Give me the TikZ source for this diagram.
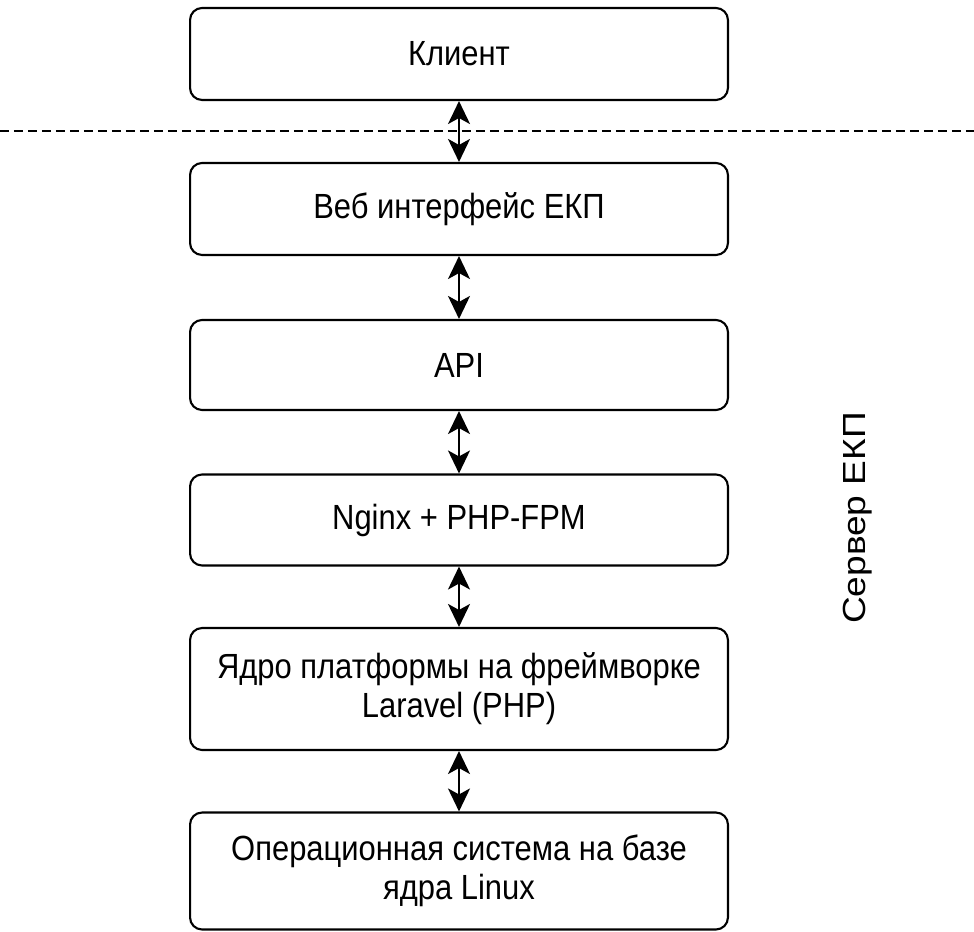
\documentclass[tikz,border=0pt]{standalone}
\usepackage{fontspec}
\setmainfont[FakeStretch=0.885]{Liberation Sans}
\newfontfamily\sidefont[FakeStretch=1.16]{Liberation Sans}
\usetikzlibrary{arrows.meta,positioning}

\tikzset{
  layer/.style={draw,line width=1.2pt,rounded corners=0.24cm,
    minimum width=10.76cm,align=center,inner sep=0pt,
    font=\fontsize{19.9pt}{22.2pt}\selectfont},
  link/.style={line width=1.3pt,
    >={Stealth[length=0.46cm,width=0.44cm,inset=0.12cm]},<->}
}

\begin{document}
\begin{tikzpicture}[x=0.02cm,y=-0.02cm]
\useasboundingbox (0,0) rectangle (974,932);

\node[layer,minimum height=1.84cm] (client) at (459,54) {Клиент};
\node[layer,minimum height=1.84cm] (web) at (459,209) {Веб интерфейс ЕКП};
\node[layer,minimum height=1.80cm] (api) at (459,365) {API};
\node[layer,minimum height=1.82cm] (nginx) at (459,520) {Nginx + PHP-FPM};
\node[layer,minimum height=2.44cm] (core) at (459,689) {Ядро платформы на фреймворке\\Laravel (PHP)};
\node[layer,minimum height=2.34cm] (os) at (459,871) {Операционная система на базе\\ядра Linux};

% client / server boundary
\coordinate (sepL) at (0,131);
\coordinate (sepR) at (974,131);
\draw[line width=1.2pt,dash pattern=on 0.18cm off 0.1cm] (sepL) -- (sepR);

\draw[link] (client) -- (web);
\draw[link] (web) -- (api);
\draw[link] (api) -- (nginx);
\draw[link] (nginx) -- (core);
\draw[link] (core) -- (os);

\node[rotate=90,font=\sidefont\fontsize{18.2pt}{20pt}\selectfont] (server) at (858,518) {Сервер ЕКП};

\end{tikzpicture}
\end{document}
